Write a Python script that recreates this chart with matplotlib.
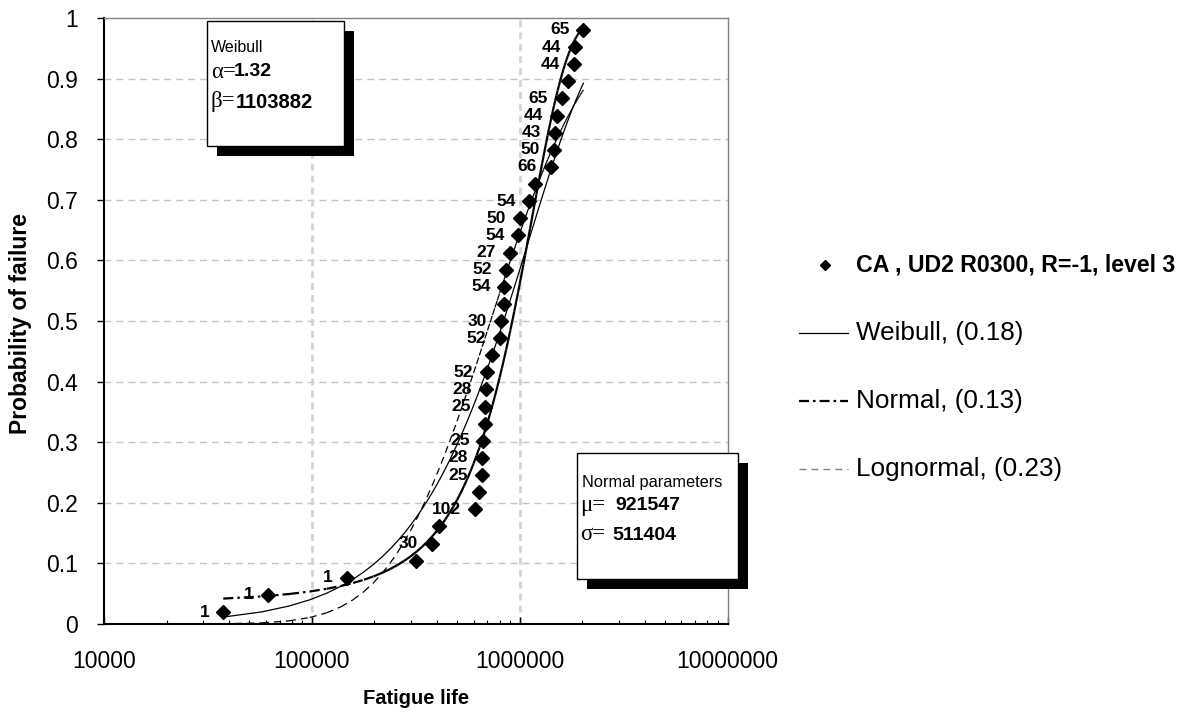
import math
import numpy as np
import matplotlib
matplotlib.use("Agg")
import matplotlib.pyplot as plt
from matplotlib.collections import LineCollection
from matplotlib.lines import Line2D
from matplotlib.patches import Rectangle
from matplotlib.ticker import NullFormatter, LogLocator

plt.rcParams['font.family'] = ['Liberation Sans', 'DejaVu Sans']
plt.rcParams['lines.scale_dashes'] = False

# ---- test results (sorted fatigue lives) and median-rank failure probabilities ----
fatigue_life = [37500, 61200, 146900, 316000, 378600, 409000, 610000, 638000,
                657000, 657000, 669000, 683000, 683000, 689000, 694000, 739000,
                805000, 811000, 844000, 844000, 860000, 899000, 986000, 1005000,
                1114000, 1186000, 1411000, 1464000, 1481000, 1508000, 1594000,
                1716000, 1827000, 1848000, 2026000]
prob_failure = [0.0198, 0.0480, 0.0763, 0.1045, 0.1328, 0.1610, 0.1893, 0.2175,
                0.2458, 0.2740, 0.3023, 0.3305, 0.3588, 0.3870, 0.4153, 0.4435,
                0.4718, 0.5000, 0.5282, 0.5565, 0.5847, 0.6130, 0.6412, 0.6695,
                0.6977, 0.7260, 0.7542, 0.7825, 0.8107, 0.8390, 0.8672, 0.8955,
                0.9237, 0.9520, 0.9802]
point_labels = ["1", "1", "1", "", "30", "", "102", "", "25", "28", "25", "",
                "25", "28", "52", "", "52", "30", "", "54", "52", "27", "54", "50",
                "54", "", "66", "50", "43", "44", "65", "", "44", "44", "65"]

# fitted distribution parameters
weibull_alpha = 1.32
weibull_beta = 1103882
normal_mu = 921547
normal_sigma = 511404
lognormal_mu_log10 = 5.86
lognormal_sigma_log10 = 0.378

series_label = "CA , UD2 R0300, R=-1, level 3"
fit_labels = ["Weibull, (0.18)", "Normal, (0.13)", "Lognormal, (0.23)"]

x_ticks = [1e4, 1e5, 1e6, 1e7]
x_tick_labels = ["10000", "100000", "1000000", "10000000"]
y_ticks = [0, 0.1, 0.2, 0.3, 0.4, 0.5, 0.6, 0.7, 0.8, 0.9, 1.0]
y_tick_labels = ["0", "0.1", "0.2", "0.3", "0.4", "0.5", "0.6", "0.7", "0.8", "0.9", "1"]

W, H = 1184, 713


def fx(px):
    return px / W


def fy(py):
    return 1 - py / H


fig = plt.figure(figsize=(W / 100, H / 100), dpi=100)
ax = fig.add_axes([fx(104), fy(624), (727.5 - 104) / W, (624 - 18) / H])
ax.set_xscale('log')
ax.set_xlim(1e4, 1e7)
ax.set_ylim(0, 1)

# grid
for yv in y_ticks[1:-1]:
    ax.axhline(yv, color='#c4c4c4', lw=1.0, ls=(0, (5, 3.6)), zorder=0.5)
for xv in x_ticks[1:3]:
    ax.axvline(xv, color='#d4d4d4', lw=2.0, ls=(0, (5, 3.6)), zorder=0.5)

# fitted curves
erf = np.vectorize(math.erf)
x_fit = np.linspace(fatigue_life[0], fatigue_life[-1], 100)
cdf_weibull = 1 - np.exp(-(x_fit / weibull_beta) ** weibull_alpha)
cdf_normal = 0.5 * (1 + erf((x_fit - normal_mu) / (normal_sigma * math.sqrt(2))))
cdf_lognormal = 0.5 * (1 + erf((np.log10(x_fit) - lognormal_mu_log10)
                               / (lognormal_sigma_log10 * math.sqrt(2))))


def segments(x, y):
    pts = np.column_stack([x, y])
    return np.stack([pts[:-1], pts[1:]], axis=1)


ax.plot(x_fit, cdf_weibull, color='black', lw=0.9, zorder=2)
ax.add_collection(LineCollection(segments(x_fit, cdf_normal), colors='black',
                                 linewidths=1.6, linestyles=[(0, (7.2, 2.9, 1.8, 2.9))],
                                 zorder=2))
ax.add_collection(LineCollection(segments(x_fit, cdf_lognormal), colors='black',
                                 linewidths=0.9, linestyles=[(0, (5, 3.6))], zorder=2))

# data points
ax.plot(fatigue_life, prob_failure, ls='none', marker='D', ms=7.2, color='black',
        zorder=4, clip_on=False)
for xv, yv, lab in zip(fatigue_life, prob_failure, point_labels):
    if lab:
        ax.annotate(lab, (xv, yv), xytext=(-10, 0), textcoords='offset points',
                    ha='right', va='center', fontsize=12.5, fontweight='bold', zorder=5)

# axes styling
ax.set_xticks(x_ticks)
ax.set_xticklabels(x_tick_labels)
ax.xaxis.set_minor_locator(LogLocator(base=10, subs=np.arange(2, 10)))
ax.xaxis.set_minor_formatter(NullFormatter())
ax.set_yticks(y_ticks)
ax.set_yticklabels(y_tick_labels)
ax.tick_params(axis='x', which='major', direction='in', length=5, width=1.0,
               labelsize=16.5, pad=19, color='black')
ax.tick_params(axis='x', which='minor', direction='in', length=3, width=0.8, color='black')
ax.tick_params(axis='y', which='major', direction='out', length=5, width=1.0,
               labelsize=16.5, pad=14, color='black')
for side in ('left', 'bottom'):
    ax.spines[side].set_color('black')
    ax.spines[side].set_linewidth(1.5)
for side in ('top', 'right'):
    ax.spines[side].set_color('#808080')
    ax.spines[side].set_linewidth(1.0)

fig.text(fx(415.7), fy(699), "Fatigue life", ha='center', va='center',
         fontsize=14.5, fontweight='bold')
fig.text(fx(21), fy(324), "Probability of failure", ha='center', va='center',
         rotation=90, fontsize=16.5, fontweight='bold')


# parameter boxes with drop shadow
def shadow_box(x0, y0, x1, y1):
    fig.add_artist(Rectangle((fx(x0 + 10), fy(y1 + 10)), (x1 - x0) / W, (y1 - y0) / H,
                             transform=fig.transFigure, facecolor='black',
                             edgecolor='none', zorder=6))
    fig.add_artist(Rectangle((fx(x0), fy(y1)), (x1 - x0) / W, (y1 - y0) / H,
                             transform=fig.transFigure, facecolor='white',
                             edgecolor='black', lw=1.0, zorder=7))


serif = ['Liberation Serif', 'DejaVu Serif']

shadow_box(207, 21, 344, 146)
fig.text(fx(211), fy(48), "Weibull", ha='left', va='center', fontsize=11.5, zorder=8)
fig.text(fx(211), fy(72), "α=", ha='left', va='center', fontsize=16.5, family=serif, zorder=8)
fig.text(fx(234), fy(72), f"{weibull_alpha:.2f}", ha='left', va='center',
         fontsize=14, fontweight='bold', zorder=8)
fig.text(fx(211), fy(102), "β=", ha='left', va='center', fontsize=16.5, family=serif, zorder=8)
fig.text(fx(236), fy(102), f"{weibull_beta}", ha='left', va='center',
         fontsize=14.5, fontweight='bold', zorder=8)

shadow_box(577, 453, 738, 579)
fig.text(fx(581.5), fy(483), "Normal parameters", ha='left', va='center',
         fontsize=11.8, zorder=8)
fig.text(fx(580.5), fy(505), "μ=", ha='left', va='center', fontsize=16.5, family=serif, zorder=8)
fig.text(fx(615), fy(505), f"{normal_mu}", ha='left', va='center',
         fontsize=14, fontweight='bold', zorder=8)
fig.text(fx(580.5), fy(535), "σ=", ha='left', va='center', fontsize=16.5, family=serif, zorder=8)
fig.text(fx(612.5), fy(535), f"{normal_sigma}", ha='left', va='center',
         fontsize=14, fontweight='bold', zorder=8)

# legend
fig.add_artist(Line2D([fx(825)], [fy(265)], transform=fig.transFigure, ls='none',
                      marker='D', ms=5.5, color='black'))
fig.text(fx(855.7), fy(265), series_label, ha='left', va='center',
         fontsize=16.7, fontweight='bold')
legend_styles = [dict(color='black', lw=0.9, ls='-'),
                 dict(color='black', lw=1.6, ls=(0, (7.2, 2.9, 1.8, 2.9))),
                 dict(color='#808080', lw=1.0, ls=(0, (5, 3.6)))]
for i, (lab, st) in enumerate(zip(fit_labels, legend_styles)):
    yy = 332.7 + 68.3 * i
    fig.add_artist(Line2D([fx(799), fx(848)], [fy(yy), fy(yy)],
                          transform=fig.transFigure, **st))
    fig.text(fx(855.7), fy(yy), lab, ha='left', va='center', fontsize=18.8)

fig.savefig("out.png", dpi=100, facecolor='white')
